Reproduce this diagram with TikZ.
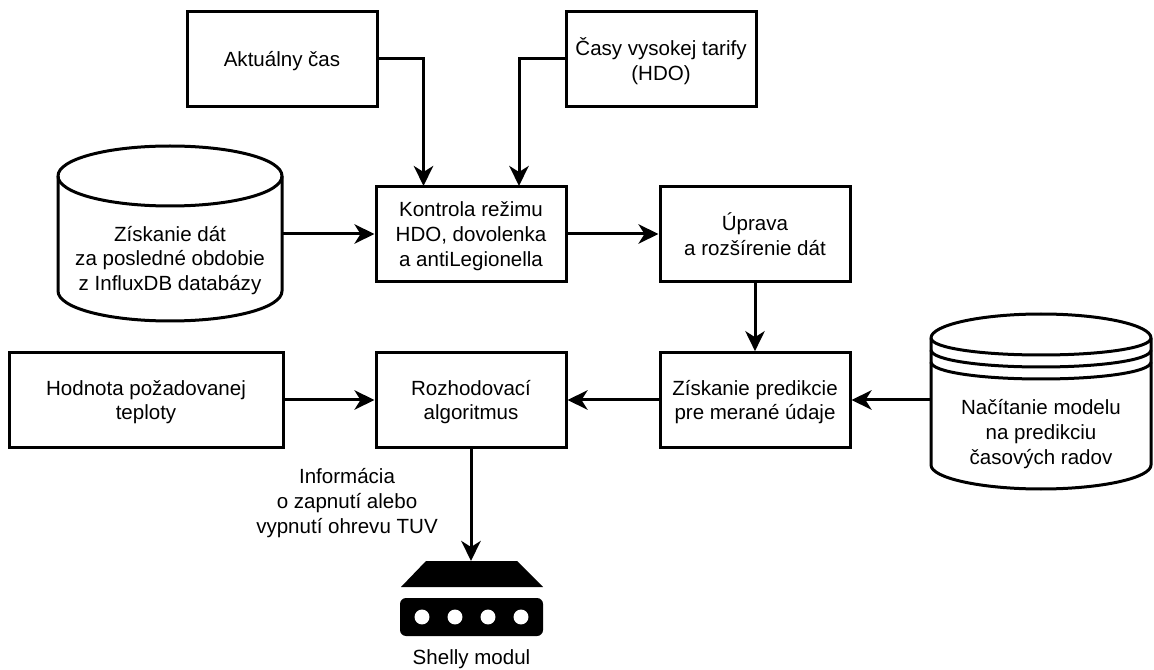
\documentclass[tikz,border=0pt]{standalone}
\usepackage{fontspec}
\setmainfont{Liberation Sans}
\usetikzlibrary{arrows.meta,shapes.geometric}
\begin{document}
\begin{tikzpicture}[x=0.75pt,y=-0.75pt,
  txt/.style={font=\fontsize{15.4}{18.6}\selectfont,align=center,text=black},
  box/.style={txt,text depth=-1pt,draw=black,line width=2.25pt,minimum width=142.5pt,minimum height=71pt,inner sep=0pt},
  ghost/.style={txt,inner sep=0pt,outer sep=0pt},
  outline/.style={draw=black,line width=2.25pt,line join=round},
  conn/.style={draw=black,line width=2.25pt,-{Stealth[length=15pt,width=14.5pt,inset=4.5pt]}},
  ink/.style={fill=black,draw=none}]
\useasboundingbox (0,0) rectangle (1154,670);

% boxes
\node[box] (cas) at (282,59) {Aktuálny čas};
\node[box] (hdo) at (661,59) {Časy vysokej tarify\\(HDO)};
\node[box] (kontrola) at (471,234) {Kontrola režimu\\HDO, dovolenka\\a antiLegionella};
\node[box] (uprava) at (755,234) {Úprava\\a rozšírenie dát};
\node[box] (pred) at (755,400) {Získanie predikcie\\pre merané údaje};
\node[box] (rozh) at (471,400) {Rozhodovací\\algoritmus};
\node[box,minimum width=205.5pt] (hodn) at (146,400) {Hodnota požadovanej\\teploty};

% database cylinder
\draw[outline] (58,176) .. controls (58,159) and (108,146) .. (170,146)
  .. controls (232,146) and (282,159) .. (282,176)
  -- (282,291) .. controls (282,308) and (232,321) .. (170,321)
  .. controls (108,321) and (58,308) .. (58,291) -- cycle;
\draw[outline] (58,176) .. controls (58,193) and (108,206) .. (170,206)
  .. controls (232,206) and (282,193) .. (282,176);
\node[ghost,minimum width=168pt,minimum height=131pt] (db) at (170,234) {};
\node[ghost] (dbt) at (170,260.5) {Získanie dát\\za posledné obdobie\\z InfluxDB databázy};

% model cylinder
\draw[outline] (931,338) .. controls (931,325) and (981,314) .. (1041,314)
  .. controls (1101,314) and (1151,325) .. (1151,338)
  -- (1151,465) .. controls (1151,478) and (1101,489) .. (1041,489)
  .. controls (981,489) and (931,478) .. (931,465) -- cycle;
\draw[outline] (931,338) .. controls (931,348) and (981,355) .. (1041,355)
  .. controls (1101,355) and (1151,348) .. (1151,338);
\draw[outline] (931,350) .. controls (931,360) and (981,367) .. (1041,367)
  .. controls (1101,367) and (1151,360) .. (1151,350);
\draw[outline] (931,362) .. controls (931,372) and (981,379) .. (1041,379)
  .. controls (1101,379) and (1151,372) .. (1151,362);
\node[ghost,minimum width=165pt,minimum height=130pt] (model) at (1041,400) {};
\node[ghost] (modelt) at (1041,434) {Načítanie modelu\\na predikciu\\časových radov};

% Shelly module icon
\path[ink] (426,561) -- (517,561) -- (543,587) -- (401,587) -- cycle;
\node[ghost,minimum width=107pt,minimum height=19.5pt] (shelly) at (471,574) {};
\fill[black,rounded corners=4.5pt] (400,598) rectangle (543,636);
\foreach \px in {422,455,488,521} \fill[white] (\px,617) circle[radius=5.6pt];
\node[ghost] (shellyt) at (471.5,659) {Shelly modul};

\node[ghost] (info) at (347,503) {Informácia\\o zapnutí alebo\\vypnutí ohrevu TUV};

% connectors
\coordinate (k1) at (423.5,186);
\coordinate (k2) at (519,186);
\draw[conn] (cas.east) -| (k1);
\draw[conn] (hdo.west) -| (k2);
\draw[conn] (db.east) -- (db.east -| kontrola.west);
\draw[conn] (kontrola.east) -- (uprava.west);
\draw[conn] (uprava.south) -- (pred.north);
\draw[conn] (model.west) -- (model.west -| pred.east);
\draw[conn] (pred.west) -- (rozh.east);
\draw[conn] (hodn.east) -- (rozh.west);
\draw[conn] (rozh.south) -- (shelly.north);
\end{tikzpicture}
\end{document}
